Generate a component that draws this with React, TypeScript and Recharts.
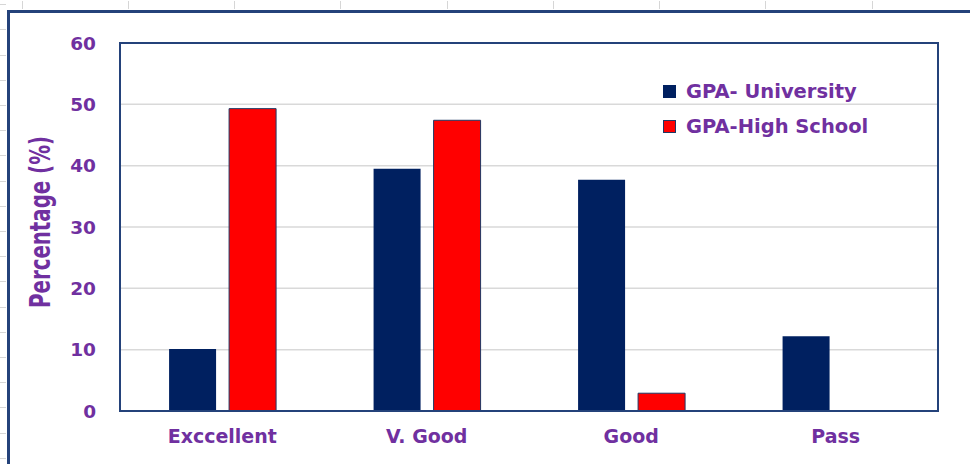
import { BarChart, Bar, XAxis, YAxis, CartesianGrid, Label, ReferenceArea } from 'recharts'

const categories = ['Exccellent', 'V. Good', 'Good', 'Pass']
const gpaUniversity = [10.1, 39.5, 37.7, 12.2]
const gpaHighSchool = [49.3, 47.4, 2.9, 0]
const yTicks = [0, 10, 20, 30, 40, 50, 60]
const seriesNames = ['GPA- University', 'GPA-High School']

const navy = '#002060'
const red = '#FF0000'
const purple = '#7030A0'
const frame = '#24427A'

const data = categories.map((name, i) => ({
  name,
  university: gpaUniversity[i],
  highSchool: gpaHighSchool[i],
}))

const tickFont = { fontFamily: '"DejaVu Sans", Verdana, sans-serif', fontWeight: 700, fontSize: 18.5, fill: purple }

// spreadsheet column / row marks behind the chart object
const colMarks = [22, 128, 234, 340, 447, 553, 659, 765, 872]
const rowMarks = [4, 29, 55, 80, 105, 130, 155, 181, 206, 231, 256, 281, 307, 332, 357, 382, 407, 433, 458]

function LegendBox() {
  const swatches = [
    { color: navy, border: navy },
    { color: red, border: '#1F3864' },
  ]
  return (
    <div style={{ position: 'absolute', left: 663, top: 79, display: 'flex', flexDirection: 'column', gap: 11 }}>
      {seriesNames.map((n, i) => (
        <div key={n} style={{ display: 'flex', alignItems: 'center', height: 24 }}>
          <span
            style={{
              display: 'inline-block',
              width: 11,
              height: 11,
              background: swatches[i].color,
              border: `1px solid ${swatches[i].border}`,
              marginRight: 10,
            }}
          />
          <span style={{ color: purple, fontFamily: '"DejaVu Sans", Verdana, sans-serif', fontWeight: 700, fontSize: 19.5 }}>
            {n}
          </span>
        </div>
      ))}
    </div>
  )
}

const YTitle = (props: any) => {
  const { viewBox } = props
  const cx = viewBox.x + 20
  const cy = viewBox.y + viewBox.height / 2 - 5
  return (
    <text
      x={cx}
      y={cy}
      transform={`rotate(-90, ${cx}, ${cy})`}
      textAnchor="middle"
      dominantBaseline="central"
      fill={purple}
      textLength={172}
      lengthAdjust="spacingAndGlyphs"
      style={{ fontFamily: '"DejaVu Sans", sans-serif', fontWeight: 700, fontSize: 29 }}
    >
      Percentage (%)
    </text>
  )
}

export default function App() {
  return (
    <div style={{ position: 'absolute', left: 0, top: 0, width: 970, height: 464, background: '#fff', overflow: 'hidden' }}>
      {colMarks.map((x) => (
        <div key={x} style={{ position: 'absolute', left: x, top: 1, width: 1, height: 8, background: '#D6D6D6' }} />
      ))}
      {rowMarks.map((y) => (
        <div key={y} style={{ position: 'absolute', left: 0, top: y, width: 6, height: 1, background: '#D6D6D6' }} />
      ))}
      <div
        style={{
          position: 'absolute',
          left: 7,
          top: 10,
          width: 980,
          height: 470,
          borderLeft: `3px solid ${frame}`,
          borderTop: `3px solid ${frame}`,
        }}
      />
      <div style={{ position: 'absolute', left: 0, top: 0 }}>
        <BarChart
          width={970}
          height={464}
          data={data}
          margin={{ top: 43, right: 32, left: 20, bottom: 0 }}
          barCategoryGap="24%"
          barGap={13}
        >
          <CartesianGrid horizontal vertical={false} stroke="#D9D9D9" strokeWidth={1.5} />
          <XAxis
            dataKey="name"
            tick={{ ...tickFont, fontSize: 19 }}
            tickLine={false}
            tickSize={0}
            tickMargin={19}
            axisLine={{ stroke: frame, strokeWidth: 2 }}
            height={53}
          />
          <YAxis
            domain={[0, 60]}
            ticks={yTicks}
            tick={tickFont}
            tickLine={false}
            tickSize={0}
            tickMargin={24}
            axisLine={{ stroke: frame, strokeWidth: 2 }}
            width={100}
          >
            <Label content={<YTitle />} />
          </YAxis>
          <Bar dataKey="university" name={seriesNames[0]} fill={navy} isAnimationActive={false} />
          <Bar
            dataKey="highSchool"
            name={seriesNames[1]}
            fill={red}
            stroke="#1F3864"
            strokeWidth={1}
            isAnimationActive={false}
          />
          <ReferenceArea y1={0} y2={60} fill="none" stroke={frame} strokeWidth={2} />
        </BarChart>
      </div>
      <LegendBox />
    </div>
  )
}
